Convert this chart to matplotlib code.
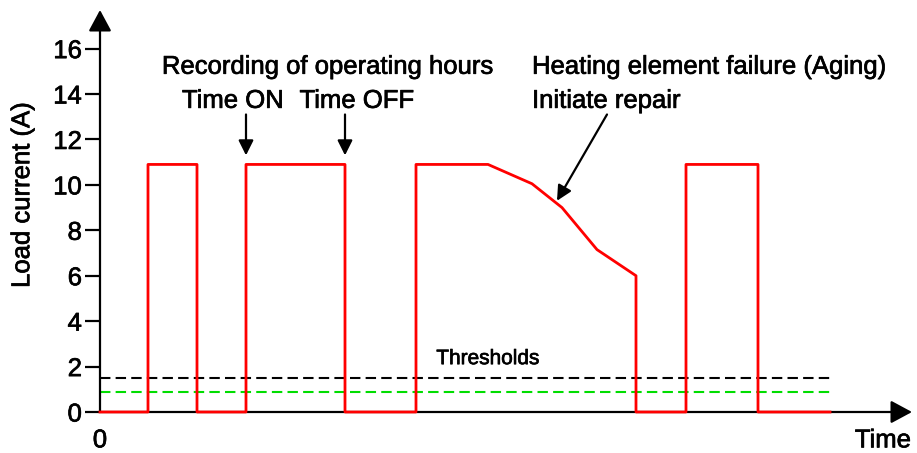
import numpy as np
import matplotlib.pyplot as plt
import matplotlib.patheffects as pe

plt.rcParams['font.family'] = ['Liberation Sans', 'DejaVu Sans']

# load current profile over time (arbitrary time units)
time_pts = [0, 4.8, 4.8, 9.7, 9.7, 14.6, 14.6, 24.5, 24.5, 31.6, 31.6, 38.8,
            43.2, 46.2, 49.7, 53.6, 53.6, 58.6, 58.6, 65.8, 65.8, 73.0]
current_pts = [0, 0, 10.9, 10.9, 0, 0, 10.9, 10.9, 0, 0, 10.9, 10.9,
               10.05, 9.0, 7.15, 6.0, 0, 0, 10.9, 10.9, 0, 0]

threshold_high = 1.5
threshold_low = 0.9
threshold_end = 73.0

y_ticks = [0, 2, 4, 6, 8, 10, 12, 14, 16]
x_max = 81.2
y_max = 17.7

# slightly heavier strokes for all text
heavy = [pe.withStroke(linewidth=0.5, foreground='black')]

fig = plt.figure(figsize=(9.17, 4.53), dpi=100)
ax = fig.add_axes([100 / 917, 41 / 453, 812 / 917, 402 / 453])
ax.set_xlim(0, x_max)
ax.set_ylim(0, y_max)

for s in ax.spines.values():
    s.set_visible(False)

# axes with arrow heads
arrow_kw = dict(arrowstyle='-|>,head_length=1.3,head_width=0.7', color='black',
                lw=1.6, shrinkA=0, shrinkB=0)
ax.annotate('', xy=(x_max, 0), xytext=(0, 0), arrowprops=arrow_kw, annotation_clip=False)
ax.annotate('', xy=(0, y_max), xytext=(0, 0), arrowprops=arrow_kw, annotation_clip=False)

ax.set_yticks(y_ticks)
ax.set_yticklabels([str(v) for v in y_ticks], fontsize=18.5, path_effects=heavy)
ax.tick_params(axis='y', length=11, width=1.6, pad=2, direction='out')
ax.set_xticks([])
ax.set_ylabel('Load current (A)', fontsize=18.5, path_effects=heavy)
ax.yaxis.set_label_coords(-0.081, 0.54)

# thresholds
ax.plot([0, threshold_end], [threshold_high] * 2, color='black', lw=1.5,
        dashes=(5, 2.5))
ax.plot([0, threshold_end], [threshold_low] * 2, color='#00dd00', lw=1.5,
        dashes=(5, 2.5))
ax.text(38.8, 2.35, 'Thresholds', fontsize=15, ha='center', va='center',
        path_effects=heavy)

ax.plot(time_pts, current_pts, color='red', lw=2.0, clip_on=False, zorder=3)

# annotations
txt = dict(fontsize=18.5, va='center', path_effects=heavy)
ax.text(0, -1.25, '0', ha='center', **txt)
ax.text(78.3, -1.25, 'Time', ha='center', **txt)
ax.text(22.8, 15.2, 'Recording of operating hours', ha='center', **txt)
ax.text(13.3, 13.7, 'Time ON', ha='center', **txt)
ax.text(25.7, 13.7, 'Time OFF', ha='center', **txt)
ax.text(43.2, 15.2, 'Heating element failure (Aging)', ha='left', **txt)
ax.text(43.2, 13.7, 'Initiate repair', ha='left', **txt)

pointer = dict(arrowstyle='-|>,head_length=0.9,head_width=0.45', color='black',
               lw=1.6, shrinkA=0, shrinkB=0)
ax.annotate('', xy=(14.6, 11.3), xytext=(14.6, 13.1), arrowprops=pointer)
ax.annotate('', xy=(24.5, 11.3), xytext=(24.5, 13.1), arrowprops=pointer)
ax.annotate('', xy=(45.7, 9.3), xytext=(50.7, 13.1), arrowprops=pointer)

fig.savefig('out.png', dpi=100)
